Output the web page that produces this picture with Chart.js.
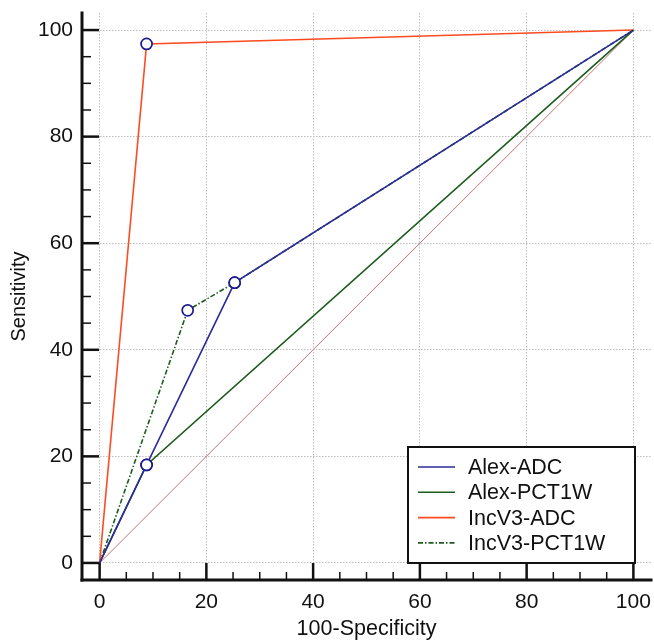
<!DOCTYPE html>
<html>
<head>
<meta charset="utf-8">
<script src="https://cdn.jsdelivr.net/npm/chart.js@4.4.1/dist/chart.umd.min.js"></script>
<style>
  body { margin: 0; background: #fff; }
  canvas { display: block; }
</style>
</head>
<body>
<canvas id="roc" width="654" height="642"></canvas>
<script>
// ROC curves, x = 100-Specificity, y = Sensitivity
const seriesNames = ['Alex-ADC', 'Alex-PCT1W', 'IncV3-ADC', 'IncV3-PCT1W'];
const alexAdcX = [0, 8.8, 25.3, 100];
const alexAdcY = [0, 18.4, 52.6, 100];
const alexPctX = [0, 8.8, 100];
const alexPctY = [0, 18.4, 100];
const incAdcX = [0, 8.8, 100];
const incAdcY = [0, 97.4, 100];
const incPctX = [0, 16.5, 25.3, 100];
const incPctY = [0, 47.4, 52.6, 100];
const diagX = [0, 100];
const diagY = [0, 100];
const tickValues = [0, 20, 40, 60, 80, 100];

const FONT = 'Arial, "Liberation Sans", sans-serif';

function pts(xs, ys) {
  return xs.map((v, i) => ({ x: v, y: ys[i] }));
}
// circles only on the inner cut-off points
function radii(xs) {
  return xs.map((v, i) => (i === 0 || i === xs.length - 1) ? 0 : 5.5);
}

function rocSet(label, xs, ys, color, dash) {
  return {
    label: label,
    data: pts(xs, ys),
    showLine: true,
    borderColor: color,
    borderWidth: 1.6,
    borderDash: dash || [],
    pointRadius: radii(xs),
    pointHoverRadius: 0,
    pointBorderColor: '#1c1c8c',
    pointBackgroundColor: '#ffffff',
    pointBorderWidth: 1.7,
    inLegend: true
  };
}

// axis lines + inward tick marks
const axesPlugin = {
  id: 'axes',
  afterDatasetsDraw(chart) {
    const { ctx, chartArea: a, scales: { x, y } } = chart;
    const seg = (x1, y1, x2, y2) => { ctx.beginPath(); ctx.moveTo(x1, y1); ctx.lineTo(x2, y2); ctx.stroke(); };
    ctx.save();
    ctx.strokeStyle = '#111';
    for (let v = 0; v <= 100; v += 5) {
      const major = v % 20 === 0;
      ctx.lineWidth = major ? 2.5 : 1.5;
      const py = y.getPixelForValue(v);
      seg(a.left, py, a.left + (major ? 17 : 9), py);
      const px = x.getPixelForValue(v);
      seg(px, a.bottom, px, a.bottom - (major ? 17 : 8));
    }
    ctx.lineWidth = 3;
    ctx.lineCap = 'square';
    seg(a.left, a.top, a.left, a.bottom);
    seg(a.left, a.bottom, a.right, a.bottom);
    ctx.restore();
  }
};

// boxed legend in the lower right corner
const legendBox = {
  id: 'legendBox',
  afterDraw(chart) {
    const { ctx, chartArea: a } = chart;
    const sets = chart.data.datasets.filter(d => d.inLegend);
    const w = 227, h = 116;
    const left = a.right - 16 - w, top = a.bottom - 17 - h;
    ctx.save();
    ctx.fillStyle = '#fff';
    ctx.fillRect(left, top, w, h);
    ctx.lineWidth = 2;
    ctx.strokeStyle = '#111';
    ctx.strokeRect(left, top, w, h);
    ctx.font = '21.5px ' + FONT;
    ctx.textBaseline = 'middle';
    sets.forEach((d, i) => {
      const ry = top + 20 + i * 25.3;
      ctx.strokeStyle = d.borderColor;
      ctx.lineWidth = 1.6;
      ctx.setLineDash(d.borderDash);
      ctx.beginPath(); ctx.moveTo(left + 10, ry); ctx.lineTo(left + 47, ry); ctx.stroke();
      ctx.setLineDash([]);
      ctx.fillStyle = '#111';
      ctx.fillText(d.label, left + 60, ry + 1);
    });
    ctx.restore();
  }
};

function noPad(s) {
  s.paddingTop = 0; s.paddingBottom = 0; s.paddingLeft = 0; s.paddingRight = 0;
}

const gridOpts = { color: '#bdbdbd', lineWidth: 1, drawTicks: false };
const tickOpts = { color: '#111', font: { family: FONT, size: 21 } };

new Chart(document.getElementById('roc'), {
  type: 'scatter',
  data: {
    datasets: [
      rocSet(seriesNames[0], alexAdcX, alexAdcY, '#2b2b9a'),
      rocSet(seriesNames[1], alexPctX, alexPctY, '#1d5c1d'),
      rocSet(seriesNames[2], incAdcX, incAdcY, '#ff4b1f'),
      rocSet(seriesNames[3], incPctX, incPctY, '#1d5c1d', [5, 2, 1.5, 2]),
      {
        label: 'diagonal',
        data: pts(diagX, diagY),
        showLine: true,
        borderColor: '#c47474',
        borderWidth: 1,
        pointRadius: 0,
        pointHoverRadius: 0,
        inLegend: false
      }
    ]
  },
  options: {
    responsive: false,
    animation: false,
    layout: { padding: { top: 13, right: 3, left: 0, bottom: 0 } },
    plugins: { legend: { display: false }, tooltip: { enabled: false } },
    scales: {
      x: {
        type: 'linear',
        min: -3.3,
        max: 103.3,
        afterBuildTicks: s => { s.ticks = tickValues.map(v => ({ value: v })); },
        afterFit: s => { s.height = 62; noPad(s); },
        grid: gridOpts,
        border: { display: false, dash: [1.5, 1.5] },
        ticks: Object.assign({ padding: 10, maxRotation: 0 }, tickOpts),
        title: { display: true, text: '100-Specificity', color: '#111', font: { family: FONT, size: 21.5, lineHeight: 1.0 }, padding: { top: 0, bottom: 2 } }
      },
      y: {
        type: 'linear',
        min: -3.2,
        max: 103.2,
        afterBuildTicks: s => { s.ticks = tickValues.map(v => ({ value: v })); },
        afterFit: s => { s.width = 82; noPad(s); },
        grid: gridOpts,
        border: { display: false, dash: [1.5, 1.5] },
        ticks: Object.assign({ padding: 9 }, tickOpts),
        title: { display: true, text: 'Sensitivity', color: '#111', font: { family: FONT, size: 20, lineHeight: 1.0 }, padding: { top: 9, bottom: 0 } }
      }
    }
  },
  plugins: [axesPlugin, legendBox]
});
</script>
</body>
</html>
